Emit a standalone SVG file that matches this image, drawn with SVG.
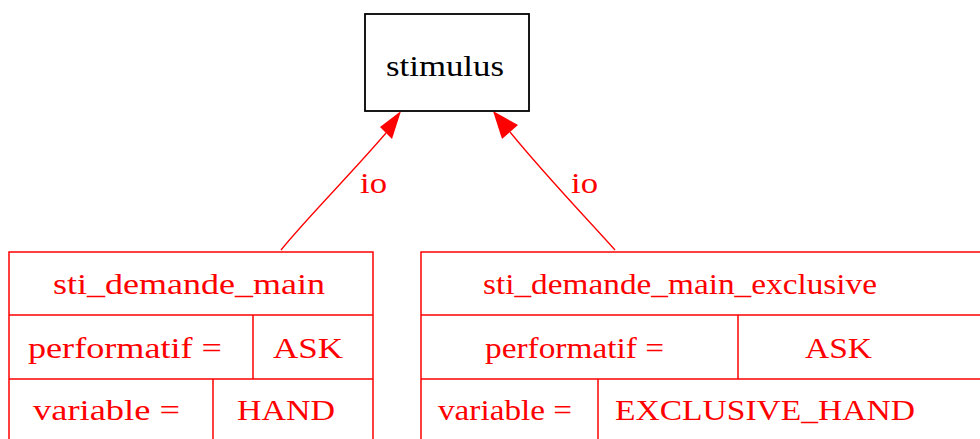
<svg xmlns="http://www.w3.org/2000/svg" width="980" height="439" viewBox="0 0 980 439">
<style>
text{font-family:"Liberation Serif","Times New Roman",serif;font-size:30px;}
.r{fill:#ff0000;}
.k{fill:#000000;}
.box{fill:#ffffff;stroke:#ff0000;stroke-width:1.5;}
.ln{stroke:#ff0000;stroke-width:1.5;fill:none;}
.edge{stroke:#ff0000;stroke-width:1.3;fill:none;}
</style>
<rect width="980" height="439" fill="#ffffff"/>
<g id="connectors">
<path class="edge" d="M281,250 C305,220 350,175 386,133"/>
<polygon class="r" points="401,111 380,127 392,139"/>
<text class="r" x="360" y="193" textLength="27" lengthAdjust="spacingAndGlyphs">io</text>
<path class="edge" d="M615,250 C590,222 545,175 510,132"/>
<polygon class="r" points="493,111 502,139 518,125"/>
<text class="r" x="571" y="193" textLength="27" lengthAdjust="spacingAndGlyphs">io</text>
</g>
<g id="stimulus">
<rect x="365" y="14" width="164" height="97" fill="#ffffff" stroke="#000000" stroke-width="1.8"/>
<text class="k" x="386" y="76" textLength="118" lengthAdjust="spacingAndGlyphs">stimulus</text>
</g>
<g id="sti_demande_main">
<rect class="box" x="9" y="252" width="364" height="200"/>
<line class="ln" x1="9" y1="315" x2="373" y2="315"/>
<line class="ln" x1="9" y1="379" x2="373" y2="379"/>
<line class="ln" x1="253" y1="315" x2="253" y2="379"/>
<line class="ln" x1="213" y1="379" x2="213" y2="440"/>
<text class="r" x="53" y="294" textLength="272" lengthAdjust="spacingAndGlyphs">sti_demande_main</text>
<text class="r" x="28" y="358" textLength="194" lengthAdjust="spacingAndGlyphs">performatif =</text>
<text class="r" x="273" y="358" textLength="70" lengthAdjust="spacingAndGlyphs">ASK</text>
<text class="r" x="33" y="420" textLength="147" lengthAdjust="spacingAndGlyphs">variable =</text>
<text class="r" x="237" y="420" textLength="98" lengthAdjust="spacingAndGlyphs">HAND</text>
</g>
<g id="sti_demande_main_exclusive">
<rect class="box" x="421" y="252" width="562" height="200"/>
<line class="ln" x1="421" y1="315" x2="983" y2="315"/>
<line class="ln" x1="421" y1="379" x2="983" y2="379"/>
<line class="ln" x1="738" y1="315" x2="738" y2="379"/>
<line class="ln" x1="598" y1="379" x2="598" y2="440"/>
<text class="r" x="483" y="294" textLength="394" lengthAdjust="spacingAndGlyphs">sti_demande_main_exclusive</text>
<text class="r" x="485" y="358" textLength="179" lengthAdjust="spacingAndGlyphs">performatif =</text>
<text class="r" x="805" y="358" textLength="67" lengthAdjust="spacingAndGlyphs">ASK</text>
<text class="r" x="438" y="420" textLength="134" lengthAdjust="spacingAndGlyphs">variable =</text>
<text class="r" x="615" y="420" textLength="300" lengthAdjust="spacingAndGlyphs">EXCLUSIVE_HAND</text>
</g>
</svg>
